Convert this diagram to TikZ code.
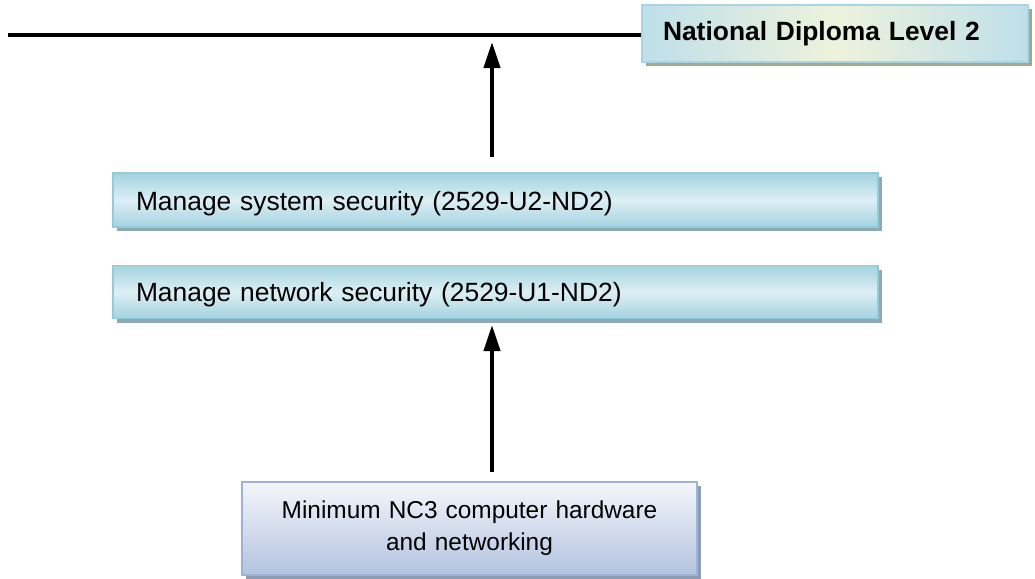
\documentclass[tikz,border=0pt]{standalone}
\usepackage{fontspec}
\setmainfont{Liberation Sans}
\usetikzlibrary{arrows.meta,shadows}
\definecolor{mgEdge}{HTML}{A3D3E0}
\definecolor{mgMid}{HTML}{DDEEF4}
\definecolor{mgLine}{HTML}{92CCDB}
\definecolor{mgShadow}{HTML}{8FA8B1}
\definecolor{ndBlue}{HTML}{BEDFE9}
\definecolor{ndYel}{HTML}{EEF2DC}
\definecolor{ndLine}{HTML}{A9D5E2}
\definecolor{ndShadow}{HTML}{A3A88B}
\definecolor{bTop}{HTML}{F4F6FB}
\definecolor{bBot}{HTML}{B3C3E0}
\definecolor{bLine}{HTML}{9DB3D6}
\definecolor{bShadow}{HTML}{8D9CB3}
\tikzset{
  basebox/.style={inner ysep=0pt},
  unitbox/.style={basebox, draw=mgLine, line width=0.6pt,
    top color=mgEdge, bottom color=mgEdge, middle color=mgMid,
    font=\fontsize{13.2}{16}\selectfont,
    minimum width=382.5pt, text width=359.5pt, inner xsep=11.5pt, align=left,
    drop shadow={shadow xshift=2pt, shadow yshift=-2pt, opacity=1, fill=mgShadow}},
  ndbox/.style={basebox, draw=ndLine, line width=0.6pt,
    left color=ndBlue, right color=ndBlue, middle color=ndYel,
    minimum width=193pt, text width=172pt, inner xsep=10.5pt, align=left,
    minimum height=28.5pt, font=\fontsize{13.2}{16}\selectfont\bfseries,
    drop shadow={shadow xshift=2pt, shadow yshift=-2pt, opacity=1, fill=ndShadow}},
  entrybox/.style={basebox, draw=bLine, line width=0.6pt,
    top color=bTop, bottom color=bBot, font=\fontsize{12.2}{16}\selectfont,
    minimum width=227.5pt, text width=210pt, align=center, minimum height=46.5pt,
    drop shadow={shadow xshift=2pt, shadow yshift=-2pt, opacity=1, fill=bShadow}},
  arr/.style={line width=2pt, -{Triangle[length=13pt,width=8pt]}},
  bar/.style={line width=2pt}
}
\begin{document}
\begin{tikzpicture}[x=0.5pt,y=-0.5pt]
\useasboundingbox (0,0) rectangle (1035,579);
\node[ndbox] (nd) at (835,33.5) {National Diploma Level 2};
\coordinate (lineL) at (8,35);
\coordinate (tip1) at (492,42);
\coordinate (tip2) at (492,325);
\draw[bar] (lineL) -- (lineL -| nd.west);
\node[unitbox, minimum height=27pt, text height=10pt, text depth=0pt] (sys) at (495.5,200) {Manage system security (2529-U2-ND2)};
\node[unitbox, minimum height=26.5pt, text height=9pt, text depth=0pt] (net) at (495.5,292) {Manage network security (2529-U1-ND2)};
\node[entrybox] (nc3) at (469.5,528.5) {Minimum NC3 computer hardware\\and networking};
\draw[arr] ([yshift=7.5pt]sys.north -| tip1) -- (tip1);
\draw[arr] ([yshift=4.5pt]nc3.north -| tip2) -- (tip2);
\end{tikzpicture}
\end{document}
